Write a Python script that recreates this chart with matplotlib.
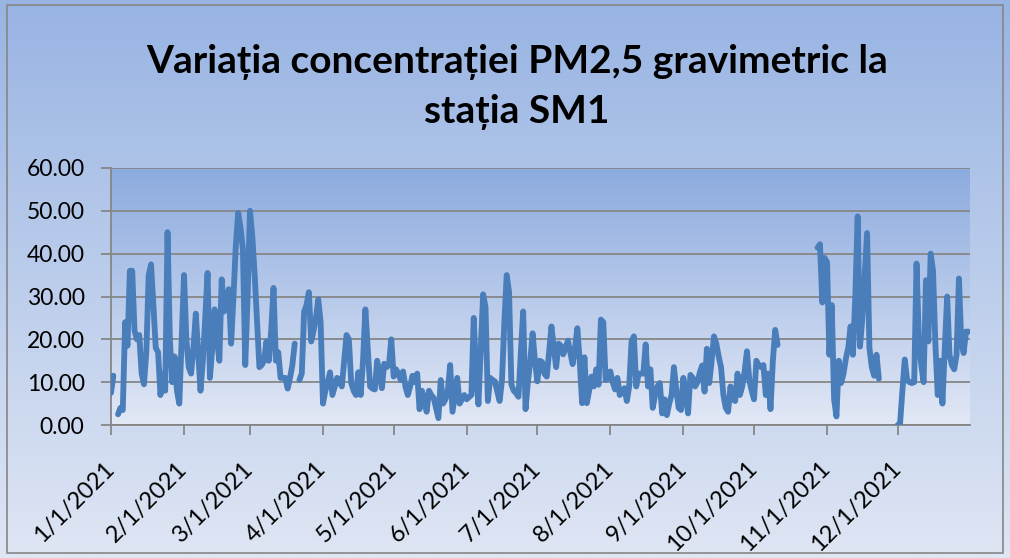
import numpy as np
import pandas as pd
import matplotlib
matplotlib.use("Agg")
from matplotlib import pyplot as plt
from matplotlib.colors import LinearSegmentedColormap
from matplotlib.patches import Rectangle
from matplotlib.transforms import ScaledTranslation

nan = np.nan

# daily PM2.5 values (ug/m3), one list per month
jan = [7.5, 11.5, nan, 2.5, 4, 3.5, 24, 18.5, 36, 36, 22, 20, 21, 12, 9.5, 17,
       35, 37.5, 28, 18, 17, 7, 12, 8, 45, 20, 10, 16, 8, 5, 20]
feb = [35, 20, 13.5, 12, 18, 26, 17, 8, 15, 25, 35.5, 11, 18, 27, 20, 15,
       34, 26.5, 28, 31.7, 19, 30, 42, 49.5, 46, 41, 14, 30]
mar = [50, 44, 35, 24, 13.5, 14, 15, 19.5, 15, 22, 32, 15, 17, 11, 11, 11,
       8.5, 11, 14, 19, nan, 10.5, 12, 26.5, 28, 31, 19.5, 22, 25, 29.3, 24]
apr = [5, 8, 10, 12.3, 7, 9, 11, 10, 9, 15, 21, 20, 9.8, 8, 7, 12.3,
       7, 15, 27, 18, 9, 8.5, 8.3, 15, 12, 8.6, 14.3, 13.5, 14, 20]
may = [11.3, 13, 12, 10.5, 12.5, 9, 7, 9, 11.5, 10, 12, 3.7, 8, 6, 3.1, 8,
       7, 6.3, 4, 1.6, 10.5, 5, 6, 8, 14, 3.1, 7, 11, 5, 6, 7]
jun = [6, 6.5, 7, 25, 12, 4.8, 18, 30.5, 27.5, 5.6, 11, 10.5, 10.2, 7.8, 5.6, 10.5,
       24, 35, 31, 9.4, 8, 7.4, 6.6, 17, 26.5, 3.7, 10, 15, 21.4, 15]
jul = [10.2, 15, 14.7, 12, 11.3, 17, 23, 18, 13.5, 19, 18.5, 16.5, 18, 19.7, 17, 14.2,
       18, 22.6, 15, 5.1, 15.8, 5.1, 8, 11.3, 9, 13, 9.4, 24.6, 24, 10.5, 11]
aug = [12.5, 10, 8.3, 11, 7, 8, 8.6, 5.6, 9, 19.5, 20.7, 9, 12, 12, 12, 18.8,
       9, 13, 4, 7, 9, 9.8, 2.7, 6, 2.3, 5, 7, 13.5, 8.3, 4, 3.5]
sep = [11, 7, 2.7, 11.7, 11, 9, 10, 12.3, 13.9, 7.8, 17.8, 9.8, 15, 20.7, 19, 16,
       13.5, 7, 4, 3.1, 9, 6, 5.6, 12, 7, 9, 12.5, 17.2, 10.5, 8]
oct_ = [6, 15, 14, 13.5, 14, 7, 12, 3.7, 15, 22.2, 18.7] + [nan] * 16 + \
       [41.4, 42.2, 28.6, 39]
nov = [38, 16.4, 28, 6, 2, 15, 9.8, 12, 15.5, 18, 23, 16.4, 30, 48.7, 18.3, 25,
       35, 44.8, 18, 13.5, 11.5, 16.4, 10.8] + [nan] * 7
dec = [0, 0.3, 8, 15.3, 10.5, 10, 9.8, 10, 37.7, 19.5, 14, 10, 33.8, 19.5, 40, 36,
       19, 7, 15, 5, 18, 30, 16.4, 14, 13, 16.4, 34.2, 19.5, 16.8, 21.8, 21.8]

values = jan + feb + mar + apr + may + jun + jul + aug + sep + oct_ + nov + dec
dates = pd.date_range("2021-01-01", periods=len(values), freq="D")
days = np.arange(len(values))
month_pos = [i for i, d in enumerate(dates) if d.day == 1]
month_lab = [f"{d.month}/{d.day}/{d.year}" for d in dates if d.day == 1]

title = "Variația concentrației PM2,5 gravimetric la\nstația SM1"

plt.rcParams['font.family'] = ['Lato', 'DejaVu Sans']
grey = '#868686'

fig = plt.figure(figsize=(10.1, 5.58), dpi=100)

# gradient background of the whole chart
bg = fig.add_axes([0, 0, 1, 1], zorder=0)
grad = np.linspace(0, 1, 256).reshape(-1, 1)
bg.imshow(grad, aspect='auto', extent=[0, 1, 0, 1], origin='upper',
          cmap=LinearSegmentedColormap.from_list("bg", ["#98b4e3", "#dfe6f4"]))
bg.add_patch(Rectangle((7/1010, 5/558), 996/1010, 548/558, fill=False,
                       ec=grey, lw=1.2, transform=bg.transAxes))
bg.set_xlim(0, 1)
bg.set_ylim(0, 1)
bg.axis('off')

ax = fig.add_axes([111/1010, 1 - 425/558, 859/1010, 257/558], zorder=1)
xmax = 364.7
ax.imshow(grad, aspect='auto', extent=[0, xmax, 0, 60], origin='upper', zorder=0,
          cmap=LinearSegmentedColormap.from_list("pa", ["#8cabdf", "#e2e8f5"]))
ax.plot(days, values, color='#4a7ebb', lw=4.2, solid_joinstyle='round',
        solid_capstyle='round', zorder=3)

ax.set_xlim(0, xmax)
ax.set_ylim(0, 60)
ax.set_axisbelow(True)
ax.set_yticks(range(0, 61, 10))
ax.set_yticklabels([f"{v:.2f}" for v in range(0, 61, 10)])
ax.yaxis.grid(True, color=grey, lw=1.3)
ax.set_xticks(month_pos)
ax.set_xticklabels(month_lab, rotation=45, ha='right', va='center',
                   rotation_mode='anchor')
shift = ScaledTranslation(4/100, 0, fig.dpi_scale_trans)
for lab in ax.get_xticklabels():
    lab.set_transform(lab.get_transform() + shift)

for s in ['top', 'right']:
    ax.spines[s].set_visible(False)
for s in ['left', 'bottom']:
    ax.spines[s].set_color(grey)
    ax.spines[s].set_linewidth(1.3)

ax.tick_params(axis='y', length=7, width=1.3, color=grey, pad=12, labelsize=16.5)
ax.tick_params(axis='x', length=7, width=1.3, color=grey, pad=22, labelsize=17)

fig.text(0.512, 1 - 87/558, title, ha='center', va='center', fontsize=28,
         fontweight='bold', linespacing=1.45)

fig.savefig("out.png", dpi=100)
